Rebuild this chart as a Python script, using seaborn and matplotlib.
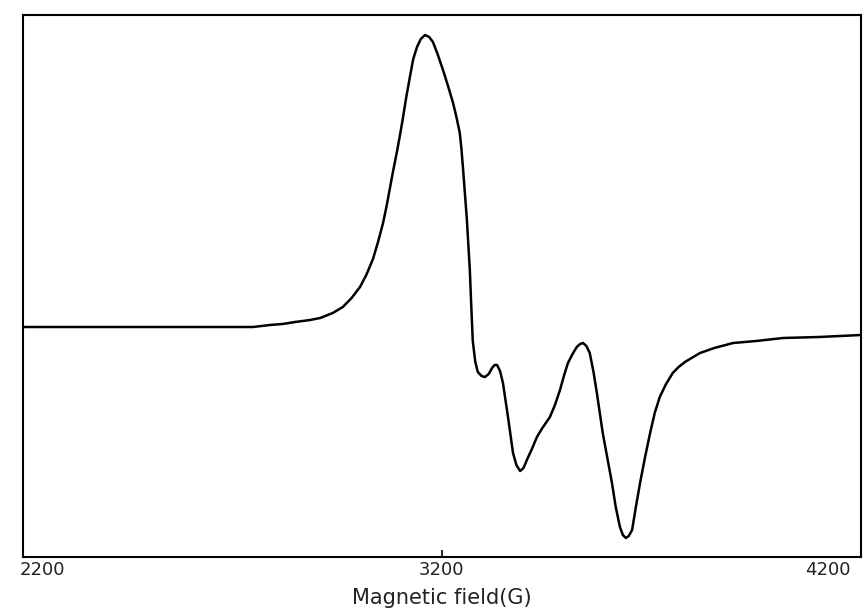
import numpy as np
import pandas as pd
import matplotlib
matplotlib.use('Agg')
import matplotlib.pyplot as plt
import matplotlib.transforms as mtransforms
import seaborn as sns

# EPR spectrum (field in G, intensity in arbitrary units)
field = [2200, 2400, 2521, 2650, 2700, 2750, 2790, 2820, 2850, 2886, 2910, 2940,
         2964, 2985, 3005, 3020, 3036, 3048, 3060, 3068, 3076, 3084, 3093, 3100,
         3107, 3115, 3124, 3132, 3141, 3150, 3160, 3170, 3179, 3190, 3203, 3215,
         3227, 3235, 3243, 3247, 3251, 3255, 3260, 3263, 3267, 3270, 3274, 3280,
         3286, 3295, 3303, 3312, 3320, 3326, 3332, 3339, 3346, 3358, 3370, 3378,
         3387, 3395, 3403, 3415, 3427, 3440, 3458, 3470, 3482, 3492, 3501, 3512,
         3522, 3530, 3537, 3545, 3553, 3562, 3570, 3577, 3584, 3595, 3606, 3615,
         3625, 3632, 3639, 3646, 3654, 3663, 3673, 3685, 3697, 3708, 3720, 3735,
         3751, 3765, 3780, 3816, 3850, 3895, 3950, 4014, 4100, 4200]
intensity = [0, 0, 0, 0, 0, 0, 2, 3, 5, 7, 9, 14,
             20, 29, 40, 52, 68, 85, 104, 120, 138, 156, 175, 191,
             208, 229, 250, 268, 280, 288, 292, 290, 285, 273, 257, 241,
             224, 210, 194, 178, 157, 135, 107, 85, 57, 25, -14, -35,
             -45, -49, -50, -47, -41, -38, -38, -44, -56, -90, -126, -138,
             -144, -141, -133, -122, -110, -101, -90, -78, -63, -48, -36, -27,
             -20, -17, -16, -19, -26, -45, -66, -86, -106, -131, -156, -180,
             -200, -208, -211, -209, -203, -180, -156, -130, -106, -86, -70, -57,
             -46, -40, -35, -26, -21, -16, -14, -11, -10, -8]

tick_values = [2200, 3200, 4200]
tick_labels = ['2200', '3200', '4200']
x_label = 'Magnetic field(G)'

sns.set_style('white')
plt.rcParams['font.family'] = ['DejaVu Sans']

fig = plt.figure(figsize=(8.64, 6.10), dpi=100)
W, H = 864, 610
ax = fig.add_axes([22.5 / W, 1 - 557 / H, (861 - 22.5) / W, (557 - 15) / H])

df = pd.DataFrame({'field': field, 'intensity': intensity})
sns.lineplot(data=df, x='field', y='intensity', ax=ax, color='black',
             linewidth=1.8, sort=False, estimator=None,
             solid_joinstyle='round', solid_capstyle='round')

ax.set_xlim(2200, 4200)
ax.set_ylim(-230, 312)
ax.set_yticks([])
ax.set_ylabel('')
ax.set_xticks(tick_values)
ax.set_xticklabels(tick_labels, fontsize=13, color='#222222')
ax.tick_params(axis='x', direction='in', length=5, width=1.2, pad=3,
               color='black', bottom=True)
for s in ax.spines.values():
    s.set_visible(True)
    s.set_color('black')
    s.set_linewidth(1.5)

labels = ax.get_xticklabels()
labels[0].set_transform(labels[0].get_transform() +
                        mtransforms.ScaledTranslation(20 / 100, 0, fig.dpi_scale_trans))
labels[-1].set_transform(labels[-1].get_transform() +
                         mtransforms.ScaledTranslation(-33 / 100, 0, fig.dpi_scale_trans))

ax.set_xlabel(x_label, fontsize=15, color='#222222')
ax.xaxis.set_label_coords(0.5, -0.058)

fig.savefig('out.png', dpi=100)
